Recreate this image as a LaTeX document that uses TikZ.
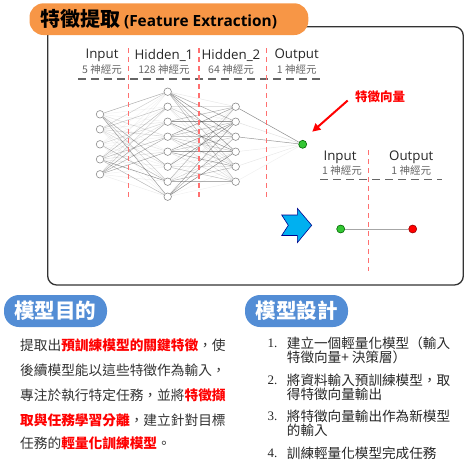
\documentclass[tikz,border=0pt]{standalone}
\usepackage{fontspec}
\newfontfamily\cjk{Noto Sans CJK TC}
\newfontfamily\lat{Open Sans}
\newfontfamily\ser{Liberation Serif}
\usetikzlibrary{backgrounds,arrows.meta}
\definecolor{tabor}{HTML}{F79646}
\definecolor{pillblue}{HTML}{538DD5}
\definecolor{txt}{HTML}{333333}
\definecolor{subg}{HTML}{666666}
\definecolor{redd}{HTML}{FF7070}
\definecolor{arrblue}{HTML}{00B0F0}
\definecolor{neu}{HTML}{8C8C8C}
\definecolor{gn}{HTML}{33C633}
\begin{document}
\begin{tikzpicture}[x=1pt,y=-1pt,
  neuron/.style={circle,draw=neu,fill=white,minimum size=7.5pt,inner sep=0pt,line width=0.6pt},
  greenn/.style={circle,draw=green!40!black,fill=gn,minimum size=8pt,inner sep=0pt,line width=0.6pt},
  redn/.style={circle,draw=red!60!black,fill=red,minimum size=8pt,inner sep=0pt,line width=0.6pt},
  hdr/.style={inner sep=0pt,font=\lat\fontsize{13.3}{15}\selectfont,text=black!85},
  sub/.style={inner sep=0pt,font=\cjk\fontsize{10.5}{12}\selectfont,text=subg},
  reddash/.style={draw=redd,line width=1.4pt,dash pattern=on 5pt off 4pt},
  graydash/.style={draw=black!60,line width=1.4pt,dash pattern=on 8pt off 5pt},
  para/.style={inner sep=0pt,anchor=west,font=\cjk\fontsize{13.7}{16}\selectfont,text=txt},
  litem/.style={inner sep=0pt,anchor=west,font=\cjk\fontsize{13.6}{16}\selectfont,text=black!85},
  lnum/.style={inner sep=0pt,anchor=west,font=\ser\fontsize{13}{16}\selectfont,text=black!85},
  pill/.style={fill=pillblue,rounded corners=15pt},
  pilltext/.style={inner sep=0pt,text=white,font=\cjk\bfseries\fontsize{20.5}{24}\selectfont},
  edge/.style={draw=black!75,line width=0.5pt}
]
\useasboundingbox (0,0) rectangle (468,472);

% main box
\draw[line width=1.3pt,draw=txt,rounded corners=9pt] (47.7,26.7) rectangle (463.3,285);
% title tab
\fill[tabor,rounded corners=14pt] (29.5,3.3) rectangle (308.3,35);
\node[inner sep=0pt,anchor=west] (title) at (40.5,19.5)
  {{\cjk\bfseries\fontsize{20}{24}\selectfont 特徵提取} {\lat\bfseries\fontsize{15.4}{18}\selectfont (Feature Extraction)}};

% headers
\node[hdr] (hIn) at (102,55) {Input};
\node[sub] (sIn) at (102,69.5) {5 神經元};
\node[hdr] (hH1) at (164,55) {Hidden\_1};
\node[sub] (sH1) at (164,69.5) {128 神經元};
\node[hdr] (hH2) at (231,55) {Hidden\_2};
\node[sub] (sH2) at (231,69.5) {64 神經元};
\node[hdr] (hOut) at (296.7,55) {Output};
\node[sub] (sOut) at (296.7,69.5) {1 神經元};

\coordinate (gl1) at (78.3,79);
\coordinate (gl2) at (321.7,79);
\draw[graydash] (gl1) -- (gl2);

\foreach \x/\n in {128.3/a,199/b,266.7/c}{
  \coordinate (rt\n) at (\x,48);
  \coordinate (rb\n) at (\x,200);
  \draw[reddash] (rt\n) -- (rb\n);
}

% neurons
\foreach \i in {1,...,5}{ \node[neuron] (i\i) at (100,{114.3+15*(\i-1)}) {}; }
\foreach \i in {1,...,8}{ \node[neuron] (h\i) at (167.7,{91.7+15*(\i-1)}) {}; }
\foreach \i in {1,...,6}{ \node[neuron] (g\i) at (235.7,{106.7+15*(\i-1)}) {}; }
\node[greenn] (out) at (302.7,144.3) {};

\pgfmathsetseed{7}
\begin{scope}[on background layer]
\foreach \a in {1,...,5}{\foreach \b in {1,...,8}{
  \pgfmathsetmacro\op{0.06+0.5*rnd^2}
  \draw[edge,opacity=\op] (i\a) -- (h\b);
}}
\foreach \a in {1,...,8}{\foreach \b in {1,...,6}{
  \pgfmathsetmacro\op{0.06+0.55*rnd^2}
  \draw[edge,opacity=\op] (h\a) -- (g\b);
}}
\draw[edge,opacity=0.6] (g1) -- (out);
\draw[edge,opacity=0.15] (g2) -- (out);
\draw[edge,opacity=0.55] (g3) -- (out);
\draw[edge,opacity=0.1] (g4) -- (out);
\draw[edge,opacity=0.12] (g5) -- (out);
\draw[edge,opacity=0.08] (g6) -- (out);
\end{scope}

% feature vector label and arrow
\node[inner sep=0pt,text=red,font=\cjk\bfseries\fontsize{12.5}{14}\selectfont] (fv) at (380,96.7) {特徵向量};
\coordinate (atail) at (347.7,100.5);
\coordinate (atip) at (312.3,131.7);
\draw[red,line width=2pt,-{Triangle[length=8pt,width=8pt]}] (atail) -- (atip);

% second network
\node[hdr] (h2In) at (340,157) {Input};
\node[sub] (s2In) at (342,170.5) {1 神經元};
\node[hdr] (h2Out) at (411.3,157) {Output};
\node[sub] (s2Out) at (411.3,170.5) {1 神經元};
\coordinate (gm1) at (320,179.3);
\coordinate (gm2) at (441.7,179.3);
\draw[graydash] (gm1) -- (gm2);
\coordinate (rtd) at (368.7,150);
\coordinate (rbd) at (368.7,271);
\draw[reddash] (rtd) -- (rbd);
\node[greenn] (in2) at (340.7,229) {};
\node[redn] (out2) at (412.7,229) {};
\draw[draw=black!35,line width=1pt] (in2) -- (out2);

% blue chevron
\draw[fill=arrblue,draw=blue!55!black,line width=0.6pt,line join=miter]
  (281.7,215) -- (297.3,215) -- (297.3,208.3) -- (311.7,225.3) -- (297.3,242.7)
  -- (297.3,235.5) -- (281.7,235.5) -- (288.3,225.3) -- cycle;

% left pill and paragraph
\fill[pill] (4,295) rectangle (107,327);
\node[pilltext] (p1) at (55.5,311) {模型目的};
\node[para] (l1) at (20,345) {提取出\textcolor{red}{\bfseries 預訓練模型的關鍵特徵}，使};
\node[para] (l2) at (20,370) {後續模型能以這些特徵作為輸入，};
\node[para] (l3) at (20,395) {專注於執行特定任務，並將\textcolor{red}{\bfseries 特徵擷}};
\node[para] (l4) at (20,420) {\textcolor{red}{\bfseries 取與任務學習分離}，建立針對目標};
\node[para] (l5) at (20,443.3) {任務的\textcolor{red}{\bfseries 輕量化訓練模型}。};

% right pill and list
\fill[pill] (245,295) rectangle (348,327);
\node[pilltext] (p2) at (296.5,311) {模型設計};
\node[lnum] (n1) at (267.3,343.3) {1.};
\node[litem] (t1a) at (286.7,343.3) {建立一個輕量化模型（輸入};
\node[litem] (t1b) at (286.7,357.3) {特徵向量+ 決策層）};
\node[lnum] (n2) at (267.3,380) {2.};
\node[litem] (t2a) at (286.7,380) {將資料輸入預訓練模型，取};
\node[litem] (t2b) at (286.7,394) {得特徵向量輸出};
\node[lnum] (n3) at (267.3,416.7) {3.};
\node[litem] (t3a) at (286.7,416.7) {將特徵向量輸出作為新模型};
\node[litem] (t3b) at (286.7,430.7) {的輸入};
\node[lnum] (n4) at (267.3,453.3) {4.};
\node[litem] (t4) at (286.7,453.3) {訓練輕量化模型完成任務};
\end{tikzpicture}
\end{document}
